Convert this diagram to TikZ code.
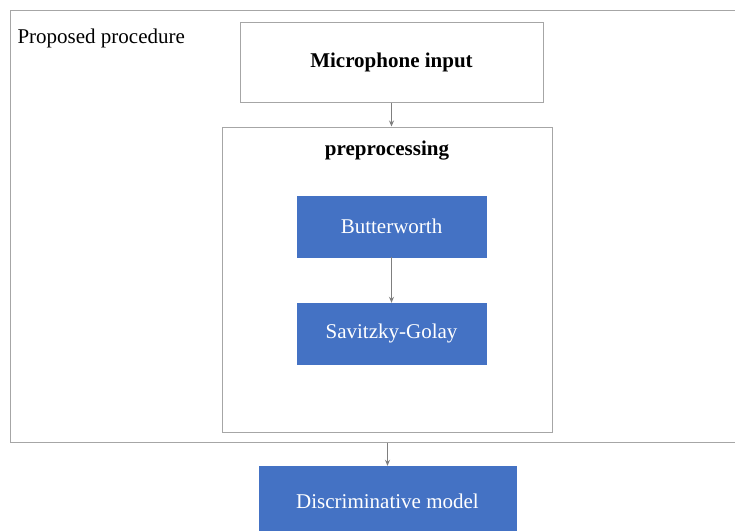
\documentclass[tikz,border=0pt]{standalone}
\usepackage{fontspec}
\setmainfont{Liberation Serif}
\usepackage{xcolor}
\usepackage{tikz}
\usetikzlibrary{arrows.meta, positioning, calc}
\definecolor{figcolor0}{HTML}{FFFFFF}
\definecolor{figcolor1}{HTML}{A6A6A6}
\definecolor{figcolor2}{HTML}{4472C4}
\definecolor{figcolor3}{HTML}{7F7F7F}
\tikzset{
  label_text/.style={font=\fontsize{21}{25}\selectfont, text=black},
  box_group/.style={draw=figcolor1, line width=1pt, fill=none},
  box_plain/.style={draw=figcolor1, fill=figcolor0, line width=1pt, label_text, font=\fontsize{21}{25}\selectfont\bfseries},
  box_blue/.style={draw=figcolor2, fill=figcolor2, text=white, font=\fontsize{21}{25}\selectfont},
  dep_arrow/.style={color=figcolor3, line width=0.9pt, -{Stealth[length=6pt, width=5pt]}}
}
\begin{document}
\begin{tikzpicture}[x=1pt, y=-1pt]
\clip (0,0) rectangle (735,530);
\fill[white] (0,0) rectangle (735,530);
% outer frame
\node[box_group, minimum width=735pt, minimum height=432pt, inner sep=0pt] (proc_box) at (377.5, 226) {};
\node[label_text, anchor=west] (proc_title) at (14, 38) {Proposed procedure};
\node[box_plain, minimum width=303pt, minimum height=80pt] (mic_node) at (391.5, 62) {Microphone input};
% preprocessing group
\node[box_group, minimum width=330pt, minimum height=305pt, inner sep=0pt] (prep_box) at (387, 279.5) {};
\node[label_text, font=\fontsize{21}{25}\selectfont\bfseries] (prep_title) at (387, 151) {preprocessing};
\node[box_blue, minimum width=189pt, minimum height=61pt] (butter_node) at (391.5, 226.5) {Butterworth};
\node[box_blue, minimum width=189pt, minimum height=61pt] (savgol_node) at (391.5, 333.5) {Savitzky-Golay};
\node[box_blue, minimum width=257pt, minimum height=70pt] (model_node) at (387.5, 501) {Discriminative model};
% connectors
\draw[dep_arrow] (mic_node.south) -- (mic_node.south |- prep_box.north);
\draw[dep_arrow] (butter_node.south) -- (savgol_node.north);
\draw[dep_arrow] (model_node.north |- proc_box.south) -- (model_node.north);
\end{tikzpicture}
\end{document}
